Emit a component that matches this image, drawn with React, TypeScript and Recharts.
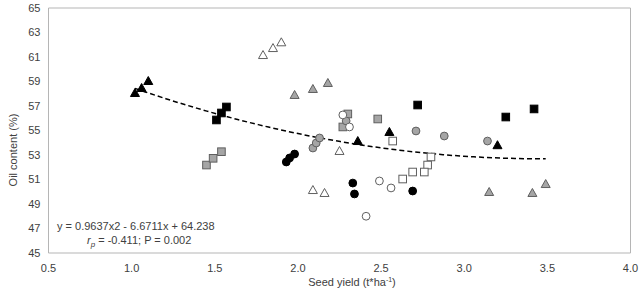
import React from 'react';
import {
  ScatterChart,
  Scatter,
  XAxis,
  YAxis,
  ReferenceArea,
} from 'recharts';

// Seed yield (t/ha) vs oil content (%), grouped by marker style
const blackTriangles = [
  { x: 1.02, y: 58.06 }, { x: 1.06, y: 58.47 }, { x: 1.10, y: 59.04 },
  { x: 2.36, y: 54.14 }, { x: 2.55, y: 54.88 }, { x: 3.20, y: 53.8 },
];
const grayTriangles = [
  { x: 1.98, y: 57.9 }, { x: 2.09, y: 58.39 }, { x: 2.18, y: 58.88 },
  { x: 3.15, y: 49.98 }, { x: 3.41, y: 49.9 }, { x: 3.49, y: 50.63 },
];
const openTriangles = [
  { x: 1.79, y: 61.16 }, { x: 1.85, y: 61.73 }, { x: 1.90, y: 62.2 },
  { x: 2.25, y: 53.33 }, { x: 2.09, y: 50.14 }, { x: 2.16, y: 49.9 },
];
const blackSquares = [
  { x: 1.51, y: 55.86 }, { x: 1.54, y: 56.43 }, { x: 1.57, y: 56.92 },
  { x: 2.72, y: 57.08 }, { x: 3.25, y: 56.1 }, { x: 3.42, y: 56.76 },
];
const graySquares = [
  { x: 1.45, y: 52.18 }, { x: 1.49, y: 52.73 }, { x: 1.54, y: 53.27 },
  { x: 2.30, y: 56.35 }, { x: 2.27, y: 55.29 }, { x: 2.48, y: 55.94 },
];
const openSquares = [
  { x: 2.57, y: 54.14 }, { x: 2.80, y: 52.84 }, { x: 2.78, y: 52.18 },
  { x: 2.76, y: 51.61 }, { x: 2.69, y: 51.61 }, { x: 2.63, y: 51.04 },
];
const blackCircles = [
  { x: 1.93, y: 52.43 }, { x: 1.95, y: 52.76 }, { x: 1.98, y: 53.08 },
  { x: 2.33, y: 50.71 }, { x: 2.34, y: 49.82 }, { x: 2.69, y: 50.06 },
];
const grayCircles = [
  { x: 2.09, y: 53.57 }, { x: 2.11, y: 53.98 }, { x: 2.13, y: 54.39 },
  { x: 2.29, y: 55.78 }, { x: 2.71, y: 54.96 }, { x: 2.88, y: 54.55 },
  { x: 3.14, y: 54.14 },
];
const openCircles = [
  { x: 2.27, y: 56.27 }, { x: 2.31, y: 55.29 }, { x: 2.49, y: 50.88 },
  { x: 2.56, y: 50.31 }, { x: 2.41, y: 48.0 },
];

const xTicks = [0.5, 1.0, 1.5, 2.0, 2.5, 3.0, 3.5, 4.0];
const yTicks = [45, 47, 49, 51, 53, 55, 57, 59, 61, 63, 65];

// quadratic fit shown in the note: y = a*x^2 + b*x + c
const FIT_A = 0.9637;
const FIT_B = -6.6711;
const FIT_C = 64.238;
const FIT_FROM = 1.02;
const FIT_TO = 3.49;
const trend = Array.from({ length: 41 }, (_, i) => {
  const x = FIT_FROM + ((FIT_TO - FIT_FROM) * i) / 40;
  return { x, y: FIT_A * x * x + FIT_B * x + FIT_C };
});

const FONT = '"Liberation Sans", Arial, sans-serif';
const TEXT = '#404040';
const GRAY = '#a5a5a5';
const EDGE = '#5f5f5f';

type Kind = 'triangle' | 'square' | 'circle';

const Marker = ({ cx, cy, kind, fill, stroke }: any) => {
  if (cx == null || cy == null) return <g />;
  if (kind === 'square') {
    return <rect x={cx - 3.8} y={cy - 3.8} width={7.6} height={7.6} fill={fill} stroke={stroke} strokeWidth={1} />;
  }
  if (kind === 'circle') {
    return <circle cx={cx} cy={cy} r={3.9} fill={fill} stroke={stroke} strokeWidth={1} />;
  }
  const pts = `${cx},${cy - 4.5} ${cx + 4.5},${cy + 3.5} ${cx - 4.5},${cy + 3.5}`;
  return <polygon points={pts} fill={fill} stroke={stroke} strokeWidth={1} />;
};

const series: { name: string; data: { x: number; y: number }[]; kind: Kind; fill: string; stroke: string }[] = [
  { name: 'blackTriangles', data: blackTriangles, kind: 'triangle', fill: '#000', stroke: '#000' },
  { name: 'grayTriangles', data: grayTriangles, kind: 'triangle', fill: GRAY, stroke: EDGE },
  { name: 'openTriangles', data: openTriangles, kind: 'triangle', fill: '#fff', stroke: EDGE },
  { name: 'blackSquares', data: blackSquares, kind: 'square', fill: '#000', stroke: '#000' },
  { name: 'graySquares', data: graySquares, kind: 'square', fill: GRAY, stroke: EDGE },
  { name: 'openSquares', data: openSquares, kind: 'square', fill: '#fff', stroke: EDGE },
  { name: 'blackCircles', data: blackCircles, kind: 'circle', fill: '#000', stroke: '#000' },
  { name: 'grayCircles', data: grayCircles, kind: 'circle', fill: GRAY, stroke: EDGE },
  { name: 'openCircles', data: openCircles, kind: 'circle', fill: '#fff', stroke: EDGE },
];

const tickStyle = { fontSize: 11, fill: TEXT, fontFamily: FONT };

export default function App() {
  return (
    <div style={{ position: 'absolute', left: 0, top: 0, background: '#fff' }}>
      <ScatterChart width={642} height={291} margin={{ top: 8, right: 11.5, bottom: 8, left: 0 }}>
        <XAxis
          type="number"
          dataKey="x"
          domain={[0.5, 4]}
          ticks={xTicks}
          tickFormatter={(v: number) => v.toFixed(1)}
          tickLine={false}
          axisLine={false}
          tickMargin={5}
          tick={tickStyle}
          height={30}
          allowDataOverflow
        />
        <YAxis
          type="number"
          dataKey="y"
          domain={[45, 65]}
          ticks={yTicks}
          tickLine={false}
          axisLine={false}
          tick={tickStyle}
          width={48.5}
          allowDataOverflow
        />
        <ReferenceArea x1={0.5} x2={4} y1={45} y2={65} fill="none" stroke="#b5b5b5" strokeWidth={1} />
        <Scatter
          name="trend"
          data={trend}
          line={{ stroke: '#000', strokeWidth: 1.5, strokeDasharray: '5 3' }}
          shape={() => <g />}
          isAnimationActive={false}
        />
        {series.map((s) => (
          <Scatter
            key={s.name}
            name={s.name}
            data={s.data}
            shape={(p: any) => <Marker cx={p.cx} cy={p.cy} kind={s.kind} fill={s.fill} stroke={s.stroke} />}
            isAnimationActive={false}
          />
        ))}
        <g fontFamily={FONT} fill={TEXT}>
          <text x={13} y={150} fontSize={11} textAnchor="middle" dominantBaseline="central" transform="rotate(-90 13 150)">
            Oil content (%)
          </text>
          <text x={352} y={286} fontSize={11} textAnchor="middle">
            Seed yield (t*ha<tspan dy={-4} fontSize={7}>-1</tspan><tspan dy={4}>)</tspan>
          </text>
          <text x={57} y={230} fontSize={11}>y = 0.9637x2 - 6.6711x + 64.238</text>
          <text x={87} y={244} fontSize={11}>
            <tspan fontStyle="italic">r</tspan>
            <tspan fontStyle="italic" fontSize={8} dy={3}>p</tspan>
            <tspan dy={-3}> = -0.411; P = 0.002</tspan>
          </text>
        </g>
      </ScatterChart>
    </div>
  );
}
